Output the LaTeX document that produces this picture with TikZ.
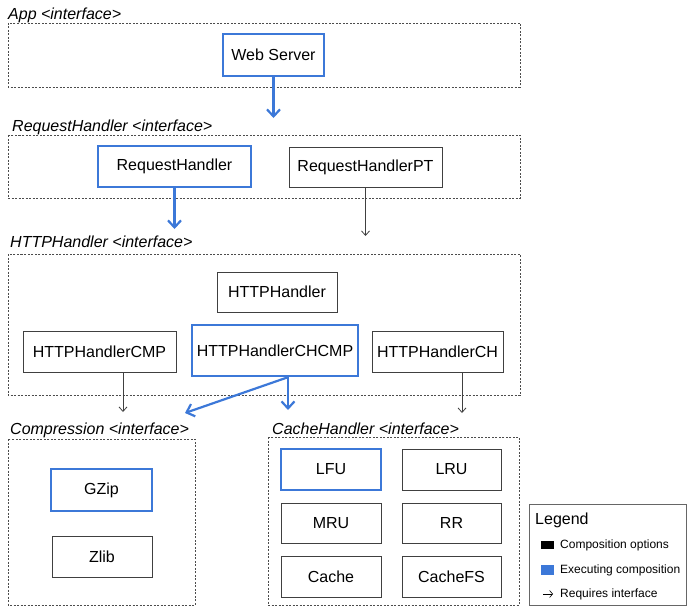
\documentclass[tikz,border=0pt]{standalone}
\usepackage{fontspec}
\setmainfont{Liberation Sans}
\usetikzlibrary{arrows.meta}
\definecolor{eblue}{HTML}{3C78D8}
\begin{document}
\begin{tikzpicture}[x=1pt,y=-1pt,
 every node/.style={font=\fontsize{16}{19}\selectfont},
 optbox/.style={draw=black!75, line width=0.9pt, inner sep=0pt},
 exebox/.style={draw=eblue, line width=2.4pt, inner sep=0pt},
 group/.style={draw=black!70, dash pattern=on 2pt off 1.5pt, line width=0.7pt},
 glabel/.style={anchor=base west, font=\fontsize{16}{19}\selectfont\itshape, inner sep=0pt},
 exearrow/.style={draw=eblue, line width=2.2pt, -{Straight Barb[length=7pt,width=13pt]}},
 reqarrow/.style={draw=black!75, line width=0.8pt, -{Straight Barb[length=4.5pt,width=8pt]}},
 legtext/.style={anchor=west, inner sep=0pt, font=\fontsize{12}{14}\selectfont},
]
\useasboundingbox (0,0) rectangle (687,607);

% groups
\draw[group] (8,23) rectangle (520,87);
\node[glabel] (lapp) at (8,20) {App <interface>};
\draw[group] (8,135) rectangle (520,198);
\node[glabel] (lrh) at (12,131) {RequestHandler <interface>};
\draw[group] (8,254) rectangle (520,395);
\node[glabel] (lhh) at (10,247) {HTTPHandler <interface>};
\draw[group] (8,439) rectangle (195,605);
\node[glabel] (lcmp) at (10,434) {Compression <interface>};
\draw[group] (268,437) rectangle (519,605);
\node[glabel] (lch) at (272,434) {CacheHandler <interface>};

% nodes
\node[exebox, minimum width=101pt, minimum height=42pt] (ws) at (273.5,55) {Web Server};
\node[exebox, minimum width=153pt, minimum height=41pt] (rh) at (174.5,166.5) {RequestHandler};
\node[optbox, minimum width=153pt, minimum height=40pt] (rhpt) at (365.5,167) {RequestHandlerPT};
\node[optbox, minimum width=120pt, minimum height=40pt] (hh) at (277,292) {HTTPHandler};
\node[optbox, minimum width=153pt, minimum height=41pt] (cmp) at (99.5,351.5) {HTTPHandlerCMP};
\node[exebox, minimum width=166pt, minimum height=51pt] (chcmp) at (275,350.5) {HTTPHandlerCHCMP};
\node[optbox, minimum width=131pt, minimum height=41pt] (ch) at (437.5,351.5) {HTTPHandlerCH};
\node[exebox, minimum width=101pt, minimum height=42pt] (gzip) at (101.5,490) {GZip};
\node[optbox, minimum width=100pt, minimum height=41pt] (zlib) at (102,556.5) {Zlib};
\node[exebox, minimum width=100pt, minimum height=41pt] (lfu) at (331,469.5) {LFU};
\node[optbox, minimum width=99pt, minimum height=41pt] (lru) at (451.5,469.5) {LRU};
\node[optbox, minimum width=100pt, minimum height=40pt] (mru) at (331,523) {MRU};
\node[optbox, minimum width=99pt, minimum height=40pt] (rr) at (451.5,523) {RR};
\node[optbox, minimum width=100pt, minimum height=41pt] (cache) at (331,576.5) {Cache};
\node[optbox, minimum width=99pt, minimum height=41pt] (cachefs) at (451.5,576.5) {CacheFS};

% connectors
\coordinate (t1) at (273.5,118);
\coordinate (t2) at (174.5,229);
\coordinate (t3) at (365.5,236);
\coordinate (t4) at (123,412);
\coordinate (t5) at (185,413);
\coordinate (t6) at (288,410);
\coordinate (t7) at (462,413);
\draw[exearrow] (ws.south) -- (t1);
\draw[exearrow] (rh.south) -- (t2);
\draw[reqarrow] (rhpt.south) -- (t3);
\draw[reqarrow] ([xshift=23.5pt]cmp.south) -- (t4);
\draw[exearrow] ([xshift=13pt]chcmp.south) -- (t5);
\draw[exearrow] ([xshift=13pt]chcmp.south) -- (t6);
\draw[reqarrow] ([xshift=24.5pt]ch.south) -- (t7);

% legend
\draw[draw=black!60, line width=0.8pt] (529,504) rectangle (686,605);
\node[anchor=base west, inner sep=0pt] (legt) at (535,524) {Legend};
\fill[black] (541,541) rectangle (554,549);
\node[legtext] (leg1) at (560,545) {Composition options};
\fill[eblue] (541,565) rectangle (554,575);
\node[legtext] (leg2) at (560,570) {Executing composition};
\coordinate (la) at (543,594);
\coordinate (lb) at (553,594);
\draw[draw=black, line width=0.6pt, -{Straight Barb[length=3pt,width=7pt]}] (la) -- (lb);
\node[legtext] (leg3) at (560,594) {Requires interface};
\end{tikzpicture}
\end{document}
